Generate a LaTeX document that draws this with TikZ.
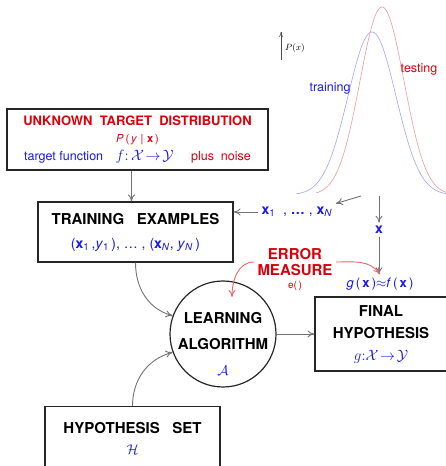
\RequirePackage{fix-cm}
\documentclass[tikz,border=0pt]{standalone}
\usepackage{amsmath, amssymb}
\usepackage{fontspec}
\setmainfont{TeX Gyre Heros}
\usetikzlibrary{arrows.meta, positioning}

\definecolor{tgblue}{RGB}{25,25,235}
\definecolor{tgred}{RGB}{218,0,10}

\tikzset{
    blockbox/.style={draw=black!85, line width=1.2pt, fill=white, align=center, inner sep=0pt},
    graybar/.style={draw=black!55, line width=0.9pt, -{To[length=7pt, width=7pt]}},
    redbar/.style={draw=tgred!60, line width=0.9pt, -{To[length=7pt, width=7pt]}},
    bigfont/.style={font=\fontsize{15}{24}\selectfont\bfseries},
}

\begin{document}
\begin{tikzpicture}[x=1pt, y=1pt]
    % Fix the page to the drawing
    \useasboundingbox (0,0) rectangle (445,466);

    % Draw the training and testing distributions
    \draw[tgblue!40, line width=0.6pt] plot[domain=296:452, samples=140, smooth] (\x, {271+163*exp(-((\x-372)^2)/1152)});
    \draw[tgred!40, line width=0.6pt] plot[domain=316:452, samples=140, smooth] (\x, {271+188*exp(-((\x-382)^2)/968)});
    \node[text=tgblue, font=\fontsize{12.5}{12.5}\selectfont] (trainlabel) at (330,378) {training};
    \node[text=tgred, font=\fontsize{12.5}{12.5}\selectfont] (testlabel) at (419,397) {testing};

    % Small axis for P(x)
    \coordinate (axisbot) at (281,406);
    \coordinate (axistop) at (281,434);
    \draw[black!70, line width=0.5pt, -{To[length=5pt, width=4pt]}] (axisbot) -- (axistop);
    \node[anchor=west, inner sep=1pt, font=\fontsize{9}{9}\selectfont] (pxlabel) at (284,418) {$P(x)$};

    % The boxes
    \node[blockbox, minimum width=261pt, minimum height=61pt, font=\fontsize{12.5}{17.5}\selectfont] (target) at (137.5,326.5)
        {{\fontsize{13}{17.5}\selectfont\bfseries\color{tgred}UNKNOWN~~TARGET~~DISTRIBUTION}\\
         {\fontsize{11}{17.5}\selectfont\color{tgred}\textit{P}\,(\,\textit{y}\,\,|\,\,\textbf{x}\,)}\\
         {\color{tgblue}target function\quad{\fontsize{15}{17.5}\selectfont$f{:}\,\mathcal{X}\!\to\!\mathcal{Y}$}}\hspace{1.4em}{\color{tgred}plus~~noise}};
    \node[blockbox, minimum width=195pt, minimum height=60pt, bigfont] (training) at (135.5,234)
        {TRAINING~~~EXAMPLES\\
         {\mdseries\fontsize{14}{24}\selectfont\color{tgblue}(\textbf{x}\textsubscript{1}\,,\textit{y}\textsubscript{1}\,), \dots\ , (\textbf{x}\textsubscript{\textit{N}}, \textit{y}\textsubscript{\textit{N}}\,)}};
    \node[blockbox, minimum width=132pt, minimum height=74pt, font=\fontsize{15}{22}\selectfont\bfseries] (final) at (381,132)
        {FINAL\\HYPOTHESIS\\
         {\mdseries\fontsize{15}{20}\selectfont\color{tgblue}$g{:}\mathcal{X}\!\to\!\mathcal{Y}$}};
    \node[blockbox, minimum width=175pt, minimum height=64pt, anchor=north, font=\fontsize{15}{21}\selectfont\bfseries] (hypset) at (132.5,60)
        {HYPOTHESIS~~~SET\\
         {\mdseries\fontsize{14}{21}\selectfont\color{tgblue}$\mathcal{H}$}};

    % Learning algorithm
    \node[circle, draw=black!85, line width=1.2pt, minimum size=106pt, inner sep=0pt] (learn) at (223,132) {};
    \node[align=center, font=\fontsize{15}{26}\selectfont\bfseries] (learntext) at (223,122)
        {LEARNING\\ALGORITHM\\{\mdseries\fontsize{14}{26}\selectfont\color{tgblue}$\mathcal{A}$}};

    % Error measure
    \node[align=center, text=tgred, font=\fontsize{15}{16}\selectfont\bfseries] (err) at (295,204) {ERROR\\MEASURE};
    \node[below=1pt of err, inner sep=1pt, text=tgred, font=\fontsize{10}{10}\selectfont] (errfn) {e(\,)};

    % Samples and test point
    \node[text=tgblue, font=\fontsize{14}{14}\selectfont] (xs) at (297,254)
        {\textbf{x}\textsubscript{1}~~,~\textbf{\dots}~,~\textbf{x}\textsubscript{\textit{N}}};
    \node[text=tgblue, font=\fontsize{14}{14}\selectfont\bfseries] (xtest) at (379,236) {x};
    \node[text=tgblue, font=\fontsize{13}{13}\selectfont] (approx) at (380,182)
        {\textit{g}\,(\,\textbf{x}\,)$\approx$\textit{f}\,(\,\textbf{x}\,)};
    \coordinate (samplefrom) at (361,270);
    \coordinate (testfrom) at (379,270);

    % Connect the blocks
    \draw[graybar] ([xshift=-6pt]target.south) -- ([xshift=-6pt]target.south |- training.north);
    \draw[graybar] (samplefrom) -- (xs.north east);
    \draw[graybar] (xs.west) -- (xs.west -| training.east);
    \draw[graybar] (testfrom) -- (xtest.north);
    \draw[graybar] (xtest.south) -- (xtest.south |- approx.north);
    \draw[graybar] (training.south) to[out=-90, in=165] (learn.160);
    \draw[graybar] (hypset.north) to[out=90, in=195] (learn.200);
    \draw[graybar] (learn.east) -- (learn.east -| final.west);
    \draw[redbar] (err.west) to[out=180, in=90] ([shift={(9,37)}]learn.center);
    \draw[redbar] (err.east) to[out=0, in=125] (approx.north);
\end{tikzpicture}
\end{document}
